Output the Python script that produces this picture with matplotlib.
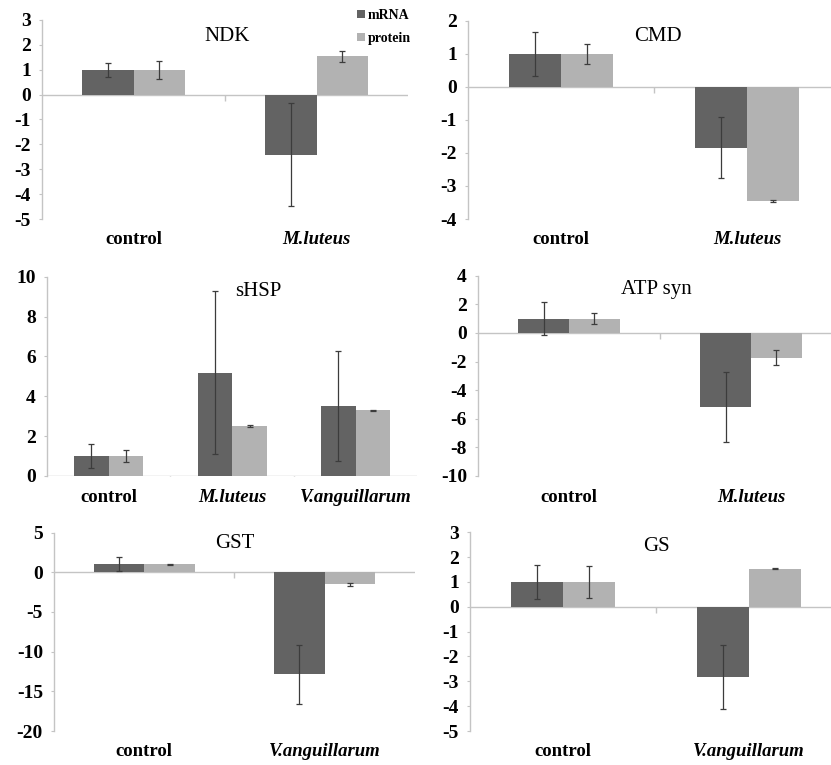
import matplotlib
matplotlib.use("Agg")
import matplotlib.pyplot as plt
from matplotlib.patches import Patch
import numpy as np

plt.rcParams['font.family'] = ['Liberation Serif', 'DejaVu Serif']
plt.rcParams['axes.unicode_minus'] = False

# ---- data ----
ndk_cats = ["control", "M.luteus"]
ndk_mrna = [1.0, -2.42]
ndk_mrna_err = [0.28, 2.07]
ndk_prot = [0.99, 1.55]
ndk_prot_err = [0.37, 0.22]

cmd_cats = ["control", "M.luteus"]
cmd_mrna = [1.0, -1.84]
cmd_mrna_err = [0.67, 0.92]
cmd_prot = [1.0, -3.46]
cmd_prot_err = [0.30, 0.04]

shsp_cats = ["control", "M.luteus", "V.anguillarum"]
shsp_mrna = [1.0, 5.18, 3.51]
shsp_mrna_err = [0.62, 4.10, 2.76]
shsp_prot = [1.0, 2.50, 3.30]
shsp_prot_err = [0.28, 0.06, 0.02]

atp_cats = ["control", "M.luteus"]
atp_mrna = [1.0, -5.15]
atp_mrna_err = [1.14, 2.45]
atp_prot = [1.0, -1.72]
atp_prot_err = [0.40, 0.52]

gst_cats = ["control", "V.anguillarum"]
gst_mrna = [1.05, -12.86]
gst_mrna_err = [0.90, 3.74]
gst_prot = [1.0, -1.50]
gst_prot_err = [0.05, 0.20]

gs_cats = ["control", "V.anguillarum"]
gs_mrna = [1.0, -2.82]
gs_mrna_err = [0.70, 1.30]
gs_prot = [1.0, 1.54]
gs_prot_err = [0.65, 0.02]

series_names = ["mRNA", "protein"]

W, H = 831, 765
fig = plt.figure(figsize=(W / 100, H / 100), dpi=100)

C_MRNA = "#636363"
C_PROT = "#b2b2b2"
C_AXIS = "#c4c4c4"
C_ERR = "#3c3c3c"


def panel(px_left, px_right, px_top, px_bottom, title, title_xy, cats, m, me, p, pe, ylim, step):
    ax = fig.add_axes([px_left / W, 1 - px_bottom / H, (px_right - px_left) / W, (px_bottom - px_top) / H])
    n = len(cats)
    x = np.arange(n)
    bw = 0.28
    ax.bar(x - bw / 2, m, width=bw, color=C_MRNA, edgecolor="none", zorder=2)
    ax.bar(x + bw / 2, p, width=bw, color=C_PROT, edgecolor="none", zorder=2)
    ax.errorbar(x - bw / 2, m, yerr=me, fmt="none", ecolor=C_ERR, elinewidth=0.9, capsize=2.5, capthick=0.9, zorder=3)
    ax.errorbar(x + bw / 2, p, yerr=pe, fmt="none", ecolor=C_ERR, elinewidth=0.9, capsize=2.5, capthick=0.9, zorder=3)
    ax.set_xlim(-0.5, n - 0.5)
    ax.set_ylim(*ylim)
    ax.set_yticks(np.arange(ylim[0], ylim[1] + step / 2, step))
    ax.axhline(0, color=C_AXIS, lw=1.0, zorder=1)
    # category boundary ticks on zero line
    bx = np.arange(n) + 0.5
    ax.plot(bx[:-1], np.zeros(n - 1), linestyle="none", marker=3, markersize=4, color=C_AXIS, zorder=1)
    for s in ["top", "right", "bottom"]:
        ax.spines[s].set_visible(False)
    ax.spines["left"].set_color(C_AXIS)
    ax.spines["left"].set_linewidth(1.0)
    ax.tick_params(axis="y", direction="out", length=2.5, color=C_AXIS, pad=5.5, labelsize=14)
    for lab in ax.get_yticklabels():
        lab.set_fontweight("bold")
    ax.set_xticks(x)
    ax.set_xticklabels(cats)
    ax.tick_params(axis="x", length=0, pad=9, labelsize=13.5)
    for lab in ax.get_xticklabels():
        lab.set_fontweight("bold")
        if lab.get_text() != "control":
            lab.set_fontstyle("italic")
    ax.text(title_xy[0], title_xy[1], title, transform=ax.transAxes, ha="center", va="center", fontsize=15)
    ax.patch.set_alpha(0)
    return ax


panel(42, 408, 20, 219, "NDK", (0.505, 0.915), ndk_cats, ndk_mrna, ndk_mrna_err, ndk_prot, ndk_prot_err, (-5, 3), 1)
panel(468, 840, 20.7, 219, "CMD", (0.51, 0.918), cmd_cats, cmd_mrna, cmd_mrna_err, cmd_prot, cmd_prot_err, (-4, 2), 1)
panel(47, 417.5, 276.7, 476, "sHSP", (0.57, 0.925), shsp_cats, shsp_mrna, shsp_mrna_err, shsp_prot, shsp_prot_err, (0, 10), 2)
panel(478, 842, 275.7, 476, "ATP syn", (0.49, 0.93), atp_cats, atp_mrna, atp_mrna_err, atp_prot, atp_prot_err, (-10, 4), 2)
panel(54, 415, 532.5, 731, "GST", (0.50, 0.947), gst_cats, gst_mrna, gst_mrna_err, gst_prot, gst_prot_err, (-20, 5), 5)
panel(470, 842, 532.3, 731, "GS", (0.50, 0.928), gs_cats, gs_mrna, gs_mrna_err, gs_prot, gs_prot_err, (-5, 3), 1)

handles = [Patch(facecolor=C_MRNA, edgecolor="none"), Patch(facecolor=C_PROT, edgecolor="none")]
fig.legend(handles, series_names, loc="upper left", bbox_to_anchor=(357 / W, 1 - 9 / H), frameon=False,
           prop={"weight": "bold", "size": 10}, handlelength=0.55, handleheight=0.55, handletextpad=0.25,
           labelspacing=0.7, borderpad=0, borderaxespad=0)

fig.savefig("out.png", dpi=100, facecolor="white")
